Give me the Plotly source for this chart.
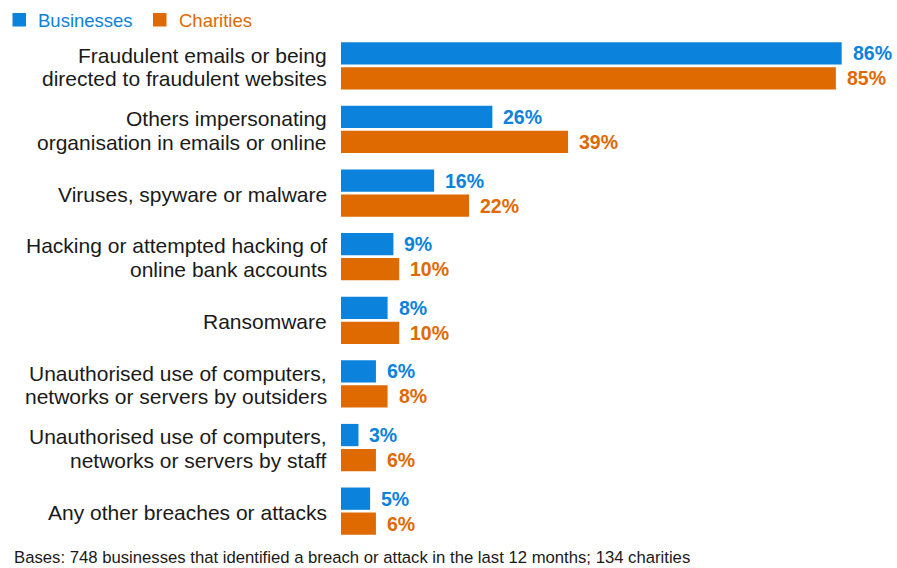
import plotly.graph_objects as go

# Breach / attack types (top to bottom)
categories = [
    "Fraudulent emails or being<br>directed to fraudulent websites",
    "Others impersonating<br>organisation in emails or online",
    "Viruses, spyware or malware",
    "Hacking or attempted hacking of<br>online bank accounts",
    "Ransomware",
    "Unauthorised use of computers,<br>networks or servers by outsiders",
    "Unauthorised use of computers,<br>networks or servers by staff",
    "Any other breaches or attacks",
]
businesses = [86, 26, 16, 9, 8, 6, 3, 5]
charities = [85, 39, 22, 10, 10, 8, 6, 6]
series_names = ["Businesses", "Charities"]
footnote = "Bases: 748 businesses that identified a breach or attack in the last 12 months; 134 charities"

BLUE = "#0B82DC"
ORANGE = "#E06A02"
TEXT = "#1a1a1a"
FONT = "Liberation Sans, Arial, sans-serif"

W, H = 897, 568
M_L, M_R, M_T, M_B = 341, 0, 34, 25
BARGAP = 0.213
GROUPGAP = 0.11
X_MAX = 95.5

plot_w = W - M_L - M_R
plot_h = H - M_T - M_B


def px_x(px):
    """Container pixel x -> paper coordinate."""
    return (px - M_L) / plot_w


def px_y(py):
    """Container pixel y (from top) -> paper coordinate."""
    return (H - M_B - py) / plot_h


fig = go.Figure()
for name, vals, col in [(series_names[0], businesses, BLUE), (series_names[1], charities, ORANGE)]:
    fig.add_trace(go.Bar(
        y=categories, x=vals, orientation="h", name=name,
        marker=dict(color=col, line=dict(width=0)),
        showlegend=False,
    ))

# Pixel geometry of the category band, used for label offsets
pitch = plot_h / len(categories)
bar_off = pitch * (1 - BARGAP) / 4

annotations = []
shapes = []

# Category labels, one annotation per line for tight line spacing
LABEL_SIZE = 21
LINE = 23.6
for cat in categories:
    lines = cat.split("<br>")
    n = len(lines)
    for i, ln in enumerate(lines):
        annotations.append(dict(
            xref="paper", yref="y", x=0, y=cat, text=ln,
            xanchor="right", yanchor="middle", xshift=-13,
            yshift=((n - 1) / 2 - i) * LINE - 1, borderpad=0,
            showarrow=False, font=dict(family=FONT, size=LABEL_SIZE, color=TEXT),
        ))

# Value labels next to each bar
for vals, col, sign in [(businesses, BLUE, 1), (charities, ORANGE, -1)]:
    for cat, v in zip(categories, vals):
        annotations.append(dict(
            xref="x", yref="y", x=v, y=cat, text=f"<b>{v}%</b>",
            xanchor="left", yanchor="middle", xshift=10,
            yshift=sign * bar_off, borderpad=0,
            showarrow=False, font=dict(family=FONT, size=19.5, color=col),
        ))

# Legend: coloured squares with coloured names
legend_items = [(series_names[0], BLUE, 12.5), (series_names[1], ORANGE, 153)]
for name, col, x0 in legend_items:
    shapes.append(dict(
        type="rect", xref="paper", yref="paper",
        x0=px_x(x0), x1=px_x(x0 + 13.5), y0=px_y(26.5), y1=px_y(13),
        fillcolor=col, line=dict(width=0),
    ))
    annotations.append(dict(
        xref="paper", yref="paper", x=px_x(x0 + 23.5), y=px_y(20.5),
        text=name, xanchor="left", yanchor="middle",
        showarrow=False, font=dict(family=FONT, size=18.5, color=col),
    ))

annotations.append(dict(
    xref="paper", yref="paper", x=px_x(12), y=px_y(557.5),
    text=footnote, xanchor="left", yanchor="middle",
    showarrow=False, font=dict(family=FONT, size=16.7, color=TEXT),
))

fig.update_layout(
    width=W, height=H,
    margin=dict(l=M_L, r=M_R, t=M_T, b=M_B),
    paper_bgcolor="white", plot_bgcolor="white",
    barmode="group", bargap=BARGAP, bargroupgap=GROUPGAP,
    font=dict(family=FONT, color=TEXT),
    showlegend=False,
    xaxis=dict(range=[0, X_MAX], visible=False, fixedrange=True),
    yaxis=dict(autorange="reversed", showticklabels=False, showgrid=False,
               zeroline=False, showline=False, ticks="", fixedrange=True),
    annotations=annotations,
    shapes=shapes,
)

fig.write_html("out.html", config={"displayModeBar": False})
